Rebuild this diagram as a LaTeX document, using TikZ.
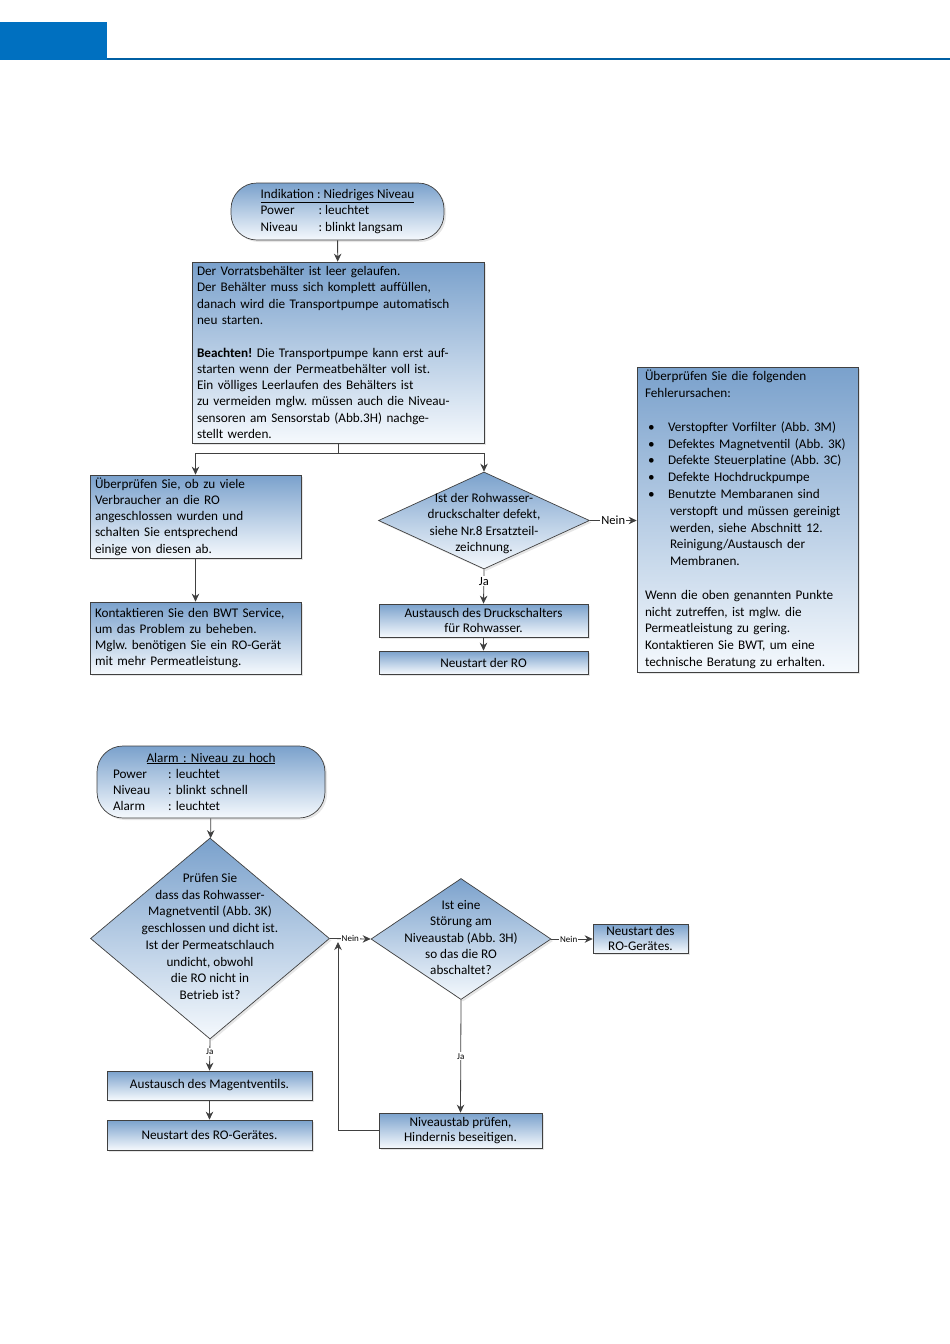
\documentclass[tikz,border=0pt]{standalone}
\usepackage{fontspec}
\setmainfont{Carlito}
\frenchspacing
\usetikzlibrary{arrows.meta,shapes.geometric,shadows}

\definecolor{bwtblue}{RGB}{0,112,192}
\definecolor{shadetop}{RGB}{122,161,204}
\definecolor{shadebot}{RGB}{245,249,253}
\definecolor{linegray}{RGB}{64,64,64}

\begin{document}
\begin{tikzpicture}[
  x=1pt,y=-1pt,
  font=\fontsize{13.2}{16.3}\selectfont,
  >={Stealth[length=8pt,width=7.5pt]},
  flow/.style={draw=linegray,line width=0.8pt},
  box/.style={draw=linegray,line width=0.7pt,top color=shadetop,bottom color=shadebot,
    drop shadow={shadow xshift=2pt,shadow yshift=-2pt,opacity=0.2},inner sep=0pt},
  term/.style={box,rounded corners=26pt},
  decision/.style={box,shape=diamond},
  dtext/.style={align=center,inner sep=0pt},
  yesno/.style={fill=white,inner sep=1pt,font=\fontsize{12.5}{14}\selectfont},
  tiny/.style={fill=white,inner sep=1pt,font=\fontsize{9}{10}\selectfont}
]
\useasboundingbox (0,0) rectangle (950,1344);

% page header
\fill[bwtblue] (0,22) rectangle (107,60);
\draw[bwtblue!85!black,line width=2pt] (107,59) -- (950,59);

% --- niedriges Niveau
\node[term,minimum width=213,minimum height=57,align=left] (ind1) at (337.5,211.5)
  {\underline{Indikation : Niedriges Niveau}\\
   \makebox[58pt][l]{Power}: leuchtet\\
   \makebox[58pt][l]{Niveau}: blinkt langsam};

\node[box,minimum width=292,minimum height=181,text width=282,align=left] (empty) at (338,352.5)
  {Der Vorratsbehälter ist leer gelaufen.\\
   Der Behälter muss sich komplett auffüllen,\\
   danach wird die Transportpumpe automatisch\\
   neu starten.\\[16.3pt]
   \textbf{Beachten!} Die Transportpumpe kann erst auf-\\
   starten wenn der Permeatbehälter voll ist.\\
   Ein völliges Leerlaufen des Behälters ist\\
   zu vermeiden mglw. müssen auch die Niveau-\\
   sensoren am Sensorstab (Abb.3H) nachge-\\
   stellt werden.};

\node[box,minimum width=211,minimum height=83,text width=201,align=left] (users) at (195.5,516.5)
  {Überprüfen Sie, ob zu viele\\
   Verbraucher an die RO\\
   angeschlossen wurden und\\
   schalten Sie entsprechend\\
   einige von diesen ab.};

\node[box,minimum width=211,minimum height=72,text width=201,align=left] (service) at (195.5,638)
  {Kontaktieren Sie den BWT Service,\\
   um das Problem zu beheben.\\
   Mglw. benötigen Sie ein RO-Gerät\\
   mit mehr Permeatleistung.};

\node[decision,minimum width=211,minimum height=97] (d1) at (484,520.5) {};
\node[dtext] (d1txt) at (484,523.5)
  {Ist der Rohwasser-\\druckschalter defekt,\\siehe Nr.8 Ersatzteil-\\zeichnung.};

\node[box,minimum width=221,minimum height=305,text width=205,align=left,
  font=\fontsize{13.2}{16.8}\selectfont] (causes) at (747.5,519.5)
  {Überprüfen Sie die folgenden\\
   Fehlerursachen:\\[16.8pt]
   \hspace*{3pt}\makebox[20pt][l]{\textbullet}Verstopfter Vorfilter (Abb. 3M)\\
   \hspace*{3pt}\makebox[20pt][l]{\textbullet}Defektes Magnetventil (Abb. 3K)\\
   \hspace*{3pt}\makebox[20pt][l]{\textbullet}Defekte Steuerplatine (Abb. 3C)\\
   \hspace*{3pt}\makebox[20pt][l]{\textbullet}Defekte Hochdruckpumpe\\
   \hspace*{3pt}\makebox[20pt][l]{\textbullet}Benutzte Membaranen sind\\
   \hspace*{25pt}verstopft und müssen gereinigt\\
   \hspace*{25pt}werden, siehe Abschnitt 12.\\
   \hspace*{25pt}Reinigung/Austausch der\\
   \hspace*{25pt}Membranen.\\[16.8pt]
   Wenn die oben genannten Punkte\\
   nicht zutreffen, ist mglw. die\\
   Permeatleistung zu gering.\\
   Kontaktieren Sie BWT, um eine\\
   technische Beratung zu erhalten.};

\node[box,minimum width=209,minimum height=33,align=center,
  font=\fontsize{13.2}{15}\selectfont] (swap) at (483.5,620.5)
  {Austausch des Druckschalters\\für Rohwasser.};
\node[box,minimum width=209,minimum height=23] (restart1) at (483.5,662.5) {Neustart der RO};

\draw[flow,->] (ind1) -- (empty);
\draw[flow] (empty.south) -- ++(0,10) coordinate (split);
\draw[flow,->] (split) -| (users.north);
\draw[flow,->] (split) -| (d1.north);
\draw[flow,->] (users) -- (service);
\draw[flow,->] (d1.east) -- node[yesno] {Nein} (d1.east -| causes.west);
\draw[flow,->] (d1.south) -- node[yesno,pos=0.35] {Ja} (swap.north);
\draw[flow,->] (swap) -- (restart1);

% --- Niveau zu hoch
\node[term,minimum width=228,minimum height=72,text width=196,align=left] (ind2) at (211,782)
  {\makebox[\linewidth][c]{\underline{Alarm : Niveau zu hoch}}\\
   \makebox[55pt][l]{Power}: leuchtet\\
   \makebox[55pt][l]{Niveau}: blinkt schnell\\
   \makebox[55pt][l]{Alarm}: leuchtet};

\node[decision,minimum width=239,minimum height=201] (d2) at (210,938.5) {};
\node[dtext,font=\fontsize{13.2}{16.7}\selectfont] (d2txt) at (210,936.5)
  {Prüfen Sie\\dass das Rohwasser-\\Magnetventil (Abb. 3K)\\geschlossen und dicht ist.\\
   Ist der Permeatschlauch\\undicht, obwohl\\die RO nicht in\\Betrieb ist?};

\node[decision,minimum width=180,minimum height=121] (d3) at (461,939) {};
\node[dtext] (d3txt) at (461,937.5)
  {Ist eine\\Störung am\\Niveaustab (Abb. 3H)\\so das die RO\\abschaltet?};

\node[box,minimum width=95,minimum height=29,align=center,
  font=\fontsize{13.2}{15}\selectfont] (restart3) at (640.5,938.5) {Neustart des\\RO-Gerätes.};
\node[box,minimum width=163,minimum height=35,align=center,
  font=\fontsize{13.2}{15.5}\selectfont] (level) at (460.5,1130.5)
  {Niveaustab prüfen,\\Hindernis beseitigen.};
\node[box,minimum width=205,minimum height=29] (magnet) at (209.5,1085.5) {Austausch des Magentventils.};
\node[box,minimum width=205,minimum height=30] (restart2) at (209.5,1135) {Neustart des RO-Gerätes.};

\coordinate (loopend) at (338,942);

\draw[flow,->] (ind2) -- (d2);
\draw[flow,->] (d2.east) -- node[tiny] {Nein} (d3.west);
\draw[flow,->] (d3.east) -- node[tiny,pos=0.42] {Nein} (d3.east -| restart3.west);
\draw[flow,->] (d3.south) -- node[tiny] {Ja} (level.north);
\draw[flow,->] (level.west) -| (loopend);
\draw[flow,->] (d2.south) -- node[tiny,pos=0.4] {Ja} (magnet.north);
\draw[flow,->] (magnet) -- (restart2);
\end{tikzpicture}
\end{document}
